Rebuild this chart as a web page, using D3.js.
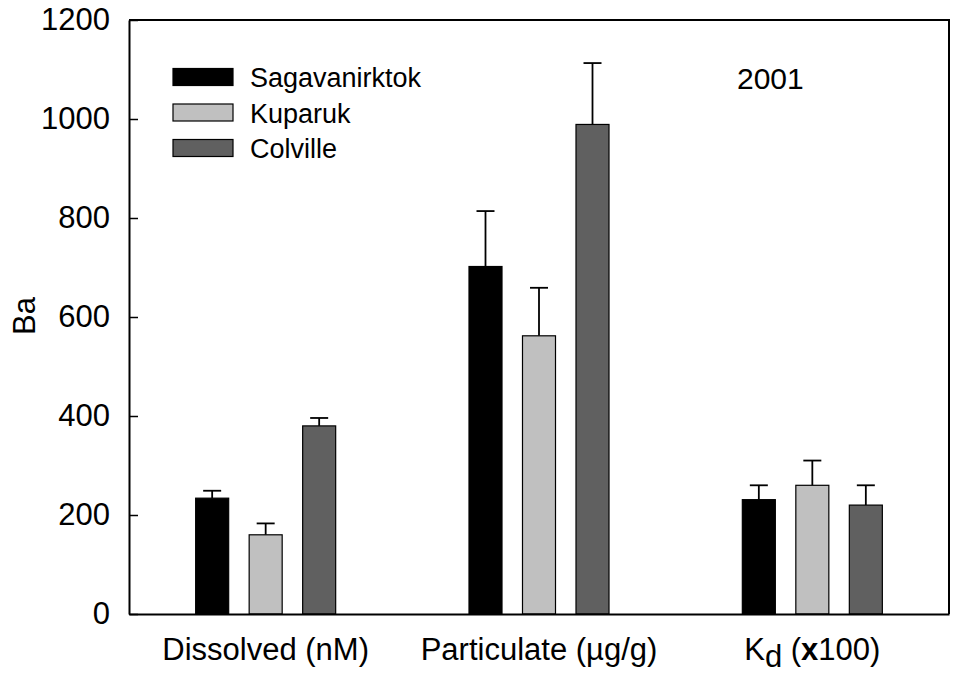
<!DOCTYPE html>
<html>
<head>
<meta charset="utf-8">
<script src="https://cdn.jsdelivr.net/npm/d3@7"></script>
<style>
  html, body { margin: 0; padding: 0; background: #fff; }
  text { font-family: Arial, "Liberation Sans", Helvetica, sans-serif; fill: #000; }
</style>
</head>
<body>
<svg id="chart" width="954" height="677"></svg>
<script>
// ---- data ----
const categories = ["Dissolved (nM)", "Particulate (µg/g)", "Kd (x100)"];
const series = ["Sagavanirktok", "Kuparuk", "Colville"];
const sagavanirktok = [234, 702, 231];
const kuparuk = [160, 562, 260];
const colville = [380, 989, 220];
const sagavanirktokErr = [15, 112, 29];
const kuparukErr = [23, 97, 50];
const colvilleErr = [16, 124, 40];
const yTicks = [0, 200, 400, 600, 800, 1000, 1200];
const colors = ["#000000", "#c0c0c0", "#606060"];
const yearLabel = "2001";

const values = [sagavanirktok, kuparuk, colville];
const errors = [sagavanirktokErr, kuparukErr, colvilleErr];

const svg = d3.select("#chart");
const margin = {left: 129, right: 5, top: 20, bottom: 63};
const W = 954, H = 677;

const x0 = d3.scaleBand().domain(categories).range([margin.left, W - margin.right]).padding(0);
const x1 = d3.scaleBand().domain(series).range([0, x0.bandwidth()]).paddingInner(0.383).paddingOuter(1.246);
const y = d3.scaleLinear().domain([0, 1200]).range([H - margin.bottom, margin.top]);

// bars
const rows = [];
categories.forEach((c, i) => series.forEach((s, j) => rows.push({c, s, j, v: values[j][i], e: errors[j][i]})));

const g = svg.append("g");
// error bars (behind bars)
g.selectAll("line.err").data(rows).join("line")
  .attr("x1", d => x0(d.c) + x1(d.s) + x1.bandwidth() / 2)
  .attr("x2", d => x0(d.c) + x1(d.s) + x1.bandwidth() / 2)
  .attr("y1", d => y(d.v))
  .attr("y2", d => y(d.v + d.e))
  .attr("stroke", "#000").attr("stroke-width", 1.8);
g.selectAll("line.cap").data(rows).join("line")
  .attr("x1", d => x0(d.c) + x1(d.s) + x1.bandwidth() / 2 - 9)
  .attr("x2", d => x0(d.c) + x1(d.s) + x1.bandwidth() / 2 + 9)
  .attr("y1", d => y(d.v + d.e))
  .attr("y2", d => y(d.v + d.e))
  .attr("stroke", "#000").attr("stroke-width", 1.8);
g.selectAll("rect.bar").data(rows).join("rect")
  .attr("x", d => x0(d.c) + x1(d.s))
  .attr("width", x1.bandwidth())
  .attr("y", d => y(d.v))
  .attr("height", d => y(0) - y(d.v))
  .attr("fill", d => colors[d.j])
  .attr("stroke", "#000").attr("stroke-width", 1.2);

// frame top & right
svg.append("path")
  .attr("d", `M${margin.left},${margin.top}H${W - margin.right}V${H - margin.bottom}`)
  .attr("fill", "none").attr("stroke", "#000").attr("stroke-width", 2);

// y axis
const yAxis = svg.append("g").attr("transform", `translate(${margin.left},0)`)
  .call(d3.axisLeft(y).tickValues(yTicks).tickSizeInner(-9).tickSizeOuter(0).tickPadding(19).tickFormat(d3.format("d")));
yAxis.select(".domain").attr("stroke-width", 2);
yAxis.selectAll(".tick line").attr("stroke-width", 1.5);
yAxis.selectAll(".tick text").attr("font-size", 31).attr("font-family", "Arial, 'Liberation Sans', sans-serif");

// x axis
const xAxis = svg.append("g").attr("transform", `translate(0,${H - margin.bottom})`)
  .call(d3.axisBottom(x0).tickSizeInner(0).tickSizeOuter(0).tickFormat(""));
xAxis.select(".domain").attr("stroke-width", 2);

// x labels
const xl = svg.append("g").selectAll("text").data(categories).join("text")
  .attr("x", d => x0(d) + x0.bandwidth() / 2)
  .attr("y", 660)
  .attr("text-anchor", "middle")
  .attr("font-size", 31);
xl.each(function(d) {
  const t = d3.select(this);
  if (d.startsWith("Kd")) {
    t.append("tspan").text("K");
    t.append("tspan").attr("dy", 7).text("d");
    t.append("tspan").attr("dy", -7).text(" (");
    t.append("tspan").attr("font-weight", "bold").text("x");
    t.append("tspan").text("100)");
  } else {
    t.text(d);
  }
});

// y label
svg.append("text")
  .attr("transform", "translate(35,316) rotate(-90)")
  .attr("text-anchor", "middle")
  .attr("font-size", 31)
  .text("Ba");

// year label
svg.append("text").attr("x", 737).attr("y", 89).attr("font-size", 30).text(yearLabel);

// legend
const leg = svg.append("g").selectAll("g").data(series).join("g")
  .attr("transform", (d, i) => `translate(173,${77 + i * 35.5})`);
leg.append("rect").attr("x", 0).attr("y", -8.5).attr("width", 60).attr("height", 17)
  .attr("fill", (d, i) => colors[i]).attr("stroke", "#000").attr("stroke-width", 1.2);
leg.append("text").attr("x", 77).attr("y", 10).attr("font-size", 27).text(d => d);
</script>
</body>
</html>
